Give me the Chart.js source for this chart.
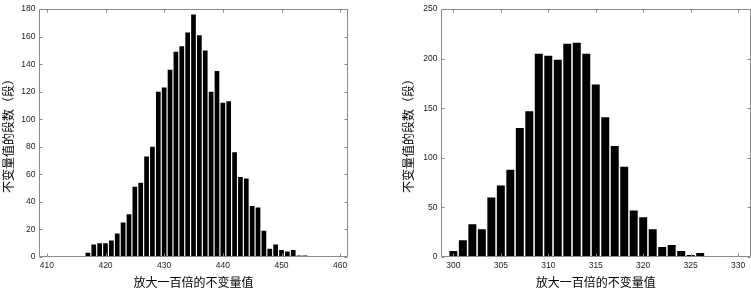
<!DOCTYPE html>
<html>
<head>
<meta charset="utf-8">
<script src="https://cdn.jsdelivr.net/npm/chart.js@4.4.1/dist/chart.umd.min.js"></script>
<style>
  html, body { margin: 0; padding: 0; background: #fff; }
  #wrap { position: relative; width: 751px; height: 292px; overflow: hidden; }
  canvas { position: absolute; top: 0; }
  #cL { left: 0; }
  #cR { left: 400px; }
</style>
</head>
<body>
<div id="wrap">
  <canvas id="cL" width="375" height="292"></canvas>
  <canvas id="cR" width="351" height="292"></canvas>
</div>
<script>
// ── DATA ──────────────────────────────────
const leftBins   = [417, 418, 419, 420, 421, 422, 423, 424, 425, 426,
                    427, 428, 429, 430, 431, 432, 433, 434, 435, 436,
                    437, 438, 439, 440, 441, 442, 443, 444, 445, 446,
                    447, 448, 449, 450, 451, 452, 453, 454];
const leftCounts = [3, 9, 10, 10, 12, 17, 25, 31, 51, 54,
                    73, 80, 120, 123, 136, 149, 153, 163, 176, 161,
                    150, 120, 135, 112, 113, 76, 58, 57, 37, 36,
                    19, 6, 9, 5, 4, 5, 1, 1];
const leftXTicks = [410, 420, 430, 440, 450, 460];
const leftYTicks = [0, 20, 40, 60, 80, 100, 120, 140, 160, 180];

const rightBins   = [300, 301, 302, 303, 304, 305, 306, 307, 308, 309,
                     310, 311, 312, 313, 314, 315, 316, 317, 318, 319,
                     320, 321, 322, 323, 324, 325, 326];
const rightCounts = [6, 17, 33, 28, 60, 72, 88, 130, 147, 205,
                     203, 199, 215, 216, 205, 174, 141, 112, 91, 47,
                     40, 28, 10, 12, 6, 2, 4];
const rightXTicks = [300, 305, 310, 315, 320, 325, 330];
const rightYTicks = [0, 50, 100, 150, 200, 250];

const xTitle = '放大一百倍的不变量值';
const yTitle = '不变量值的段数（段）';

// ── STYLE ─────────────────────────────────
const tickFont  = { family: '"Liberation Sans", Arial, sans-serif', size: 8.5 };
const titleFont = { family: '"Noto Sans CJK SC", sans-serif', size: 12 };

// box round the plot with short inward ticks (matlab look)
const framePlugin = {
  id: 'frame',
  afterDraw(chart) {
    const { ctx, chartArea: a, scales: { x, y } } = chart;
    const L = Math.floor(a.left) + .5, R = Math.floor(a.right) + .5;
    const T = Math.floor(a.top) + .5,  B = Math.floor(a.bottom) - .5;
    ctx.save();
    ctx.strokeStyle = '#8a8a8a';
    ctx.lineWidth = 1;
    ctx.beginPath();
    ctx.rect(L, T, R - L, B - T);
    x.ticks.forEach(t => {
      const px = Math.round(x.getPixelForValue(t.value)) + .5;
      ctx.moveTo(px, B); ctx.lineTo(px, B - 3);
      ctx.moveTo(px, T); ctx.lineTo(px, T + 3);
    });
    y.ticks.forEach(t => {
      const py = Math.round(y.getPixelForValue(t.value)) + .5;
      ctx.moveTo(L, py); ctx.lineTo(L + 3, py);
      ctx.moveTo(R, py); ctx.lineTo(R - 3, py);
    });
    ctx.stroke();
    ctx.restore();
  }
};

function makeHist(id, bins, counts, xTicks, yTicks, opt) {
  return new Chart(document.getElementById(id), {
    type: 'bar',
    data: {
      datasets: [{
        data: bins.map((b, i) => ({ x: b, y: counts[i] })),
        backgroundColor: '#000',
        borderWidth: 0,
        barPercentage: opt.barPct,
        categoryPercentage: 1
      }]
    },
    options: {
      responsive: false, animation: false, devicePixelRatio: 1,
      layout: { padding: { left: 0, right: opt.padR, top: 5.5, bottom: 0 } },
      plugins: { legend: { display: false }, tooltip: { enabled: false } },
      scales: {
        x: {
          type: 'linear', min: opt.xMin, max: opt.xMax, offset: false,
          grid: { display: false, drawTicks: false }, border: { display: false },
          afterBuildTicks: s => { s.ticks = xTicks.map(v => ({ value: v })); },
          afterFit: s => { s.height = 35; },
          ticks: { color: '#222', font: tickFont, padding: 4, maxRotation: 0, autoSkip: false },
          title: { display: true, text: xTitle, color: '#000', font: titleFont, padding: { top: 0, bottom: 2 } }
        },
        y: {
          type: 'linear', min: 0, max: yTicks[yTicks.length - 1],
          grid: { display: false, drawTicks: false }, border: { display: false },
          afterBuildTicks: s => { s.ticks = yTicks.map(v => ({ value: v })); },
          afterFit: s => { s.width = opt.yW; },
          ticks: { color: '#222', font: tickFont, padding: 4, autoSkip: false },
          title: { display: true, text: yTitle, color: '#000', font: titleFont, padding: { top: 1, bottom: 0 } }
        }
      }
    },
    plugins: [framePlugin]
  });
}

// ── INIT ──────────────────────────────────
makeHist('cL', leftBins, leftCounts, leftXTicks, leftYTicks,
  { xMin: 408.75, xMax: 461.25, yW: 39.5, padR: 27.5, barPct: 0.8 });
makeHist('cR', rightBins, rightCounts, rightXTicks, rightYTicks,
  { xMin: 298.75, xMax: 331.25, yW: 41.5, padR: 1, barPct: 0.84 });
</script>
</body>
</html>
